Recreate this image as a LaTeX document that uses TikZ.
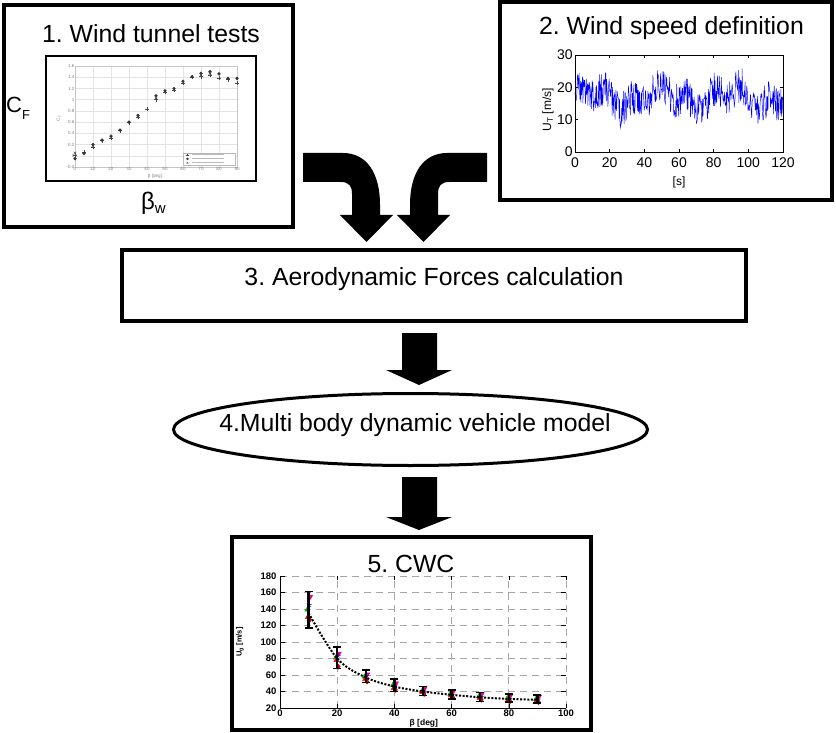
\documentclass[tikz,border=0pt]{standalone}
\usepackage{fontspec}
\setmainfont{Liberation Sans}
\usetikzlibrary{shapes.geometric,plotmarks}
\begin{document}
\frenchspacing
\begin{tikzpicture}[x=1pt,y=-1pt,
  frame/.style={draw=black, line width=4pt, inner sep=0pt},
  ttl/.style={font=\fontsize{24.8}{28}\selectfont, inner sep=0pt, anchor=base},
  blk/.style={fill=black},
  tickb/.style={font=\fontsize{14}{14}\selectfont, inner sep=1pt},
  labb/.style={font=\fontsize{12}{12}\selectfont, inner sep=0pt},
  tickc/.style={font=\bfseries\fontsize{9.5}{10}\selectfont, inner sep=1pt},
  tinya/.style={font=\fontsize{4.5}{5}\selectfont, text=gray, inner sep=0.5pt},
  cgrid/.style={draw=gray!70, line width=1pt, dash pattern=on 7pt off 5pt},
  ebar/.style={line width=2.5pt},
  ecap/.style={line width=1.5pt},
]
\useasboundingbox (0,0) rectangle (836,733);
\fill[white] (0,0) rectangle (836,733);

% ---------- Box 1 ----------
\node[frame, minimum width=288.5pt, minimum height=222pt] (b1) at (148.25,116) {};
\node[ttl] (t1) at (151,43) {1. Wind tunnel tests};
\node[draw, line width=2pt, minimum width=210pt, minimum height=125pt, inner sep=0pt] (p1) at (151,118.5) {};
\node[anchor=base west, inner sep=0pt, font=\fontsize{22}{24}\selectfont] (cf) at (6,113)
  {C\raisebox{-7pt}{\fontsize{13}{13}\selectfont F}};
\node[anchor=base, inner sep=0pt, font=\fontsize{24}{26}\selectfont] (bw) at (153.5,210)
  {β\raisebox{-4pt}{\fontsize{15}{15}\selectfont w}};

\begin{scope}[shift={(75,155.8)}, x=1.8pt, y=56.1pt]
  \foreach \v in {0,0.2,...,1.4} \draw[gray!22, line width=0.4pt] (0,\v) -- (90,\v);
  \foreach \b in {10,20,...,80} \draw[gray!22, line width=0.4pt] (\b,-0.2) -- (\b,1.6);
  \draw[gray!45, line width=0.4pt] (0,-0.2) rectangle (90,1.6);
  \foreach \v/\l in {-0.2/-0.2,0/0,0.2/0.2,0.4/0.4,0.6/0.6,0.8/0.8,1/1,1.2/1.2,1.4/1.4,1.6/1.6}
    \node[tinya, anchor=east] at (0,\v) {\l};
  \foreach \b in {0,10,...,90} \node[tinya, anchor=north] at (\b,-0.2) {\b};
  \node[tinya, rotate=90] at (-9,0.67) {C\textsubscript{F}};
  \node[tinya] at (44.4,-0.37) {β [deg]};
  \draw[gray!55!black, line width=0.6pt] plot[only marks, mark=+, mark size=2pt] coordinates {
    (0,0.0) (5,0.06) (10,0.15) (15,0.27) (20,0.32) (25,0.45) (30,0.59) (35,0.69) (40,0.83)
    (45,1.0) (50,1.13) (55,1.17) (60,1.29) (65,1.4) (70,1.41) (75,1.44) (80,1.39) (85,1.36) (90,1.29)};
  \draw[gray!40!black] plot[only marks, mark=*, mark size=1.4pt] coordinates {
    (0,-0.05) (5,0.04) (10,0.2) (15,0.28) (20,0.35) (25,0.46) (30,0.6) (35,0.72)
    (45,1.07) (50,1.16) (55,1.2) (60,1.33) (65,1.41) (70,1.47) (75,1.5) (80,1.46) (85,1.38) (90,1.38)};
  \draw[gray!60!black, line width=0.6pt] plot[only marks, mark=x, mark size=1.8pt] coordinates {(0,0.05) (10,0.18) (45,1.03) (70,1.44) (75,1.47)};
  % legend
  \draw[gray!55, fill=white, line width=0.4pt] (60,-0.164) rectangle (89,0.05);
  \draw[gray!55!black] plot[only marks, mark=+, mark size=1.3pt] coordinates {(62.5,0.015)};
  \draw[gray!40!black] plot[only marks, mark=*, mark size=1pt] coordinates {(62.5,-0.055)};
  \draw[gray!60!black] plot[only marks, mark=x, mark size=1.2pt] coordinates {(62.5,-0.125)};
  \foreach \r in {0.015,-0.055,-0.125} \draw[gray!55, line width=1pt] (65,\r) -- (83,\r);
\end{scope}

% ---------- Box 2 ----------
\node[frame, minimum width=332pt, minimum height=198pt] (b2) at (666,101) {};
\node[ttl] (t2) at (671.5,35) {2. Wind speed definition};
\begin{scope}[shift={(575,152)}, x=1.73333pt, y=3.23333pt]
  \pgfmathsetseed{11}
  \draw[blue, line width=0.45pt] plot[domain=0:120, samples=500]
    (\x, {17+2.5*sin(\x*9)+2*sin(\x*23+40)+5.5*rand});
  \draw[line width=0.7pt] (0,0) rectangle (120,30);
  \foreach \t in {0,20,...,120} {
    \draw[line width=0.5pt] (\t,0) -- ++(0,0.9);
    \draw[line width=0.5pt] (\t,30) -- ++(0,-0.9);
    \node[tickb, anchor=north] at (\t,-1.5) {\t};
  }
  \foreach \u in {0,10,20,30} {
    \draw[line width=0.5pt] (0,\u) -- ++(1.7,0);
    \draw[line width=0.5pt] (120,\u) -- ++(-1.7,0);
    \node[tickb, anchor=east] at (-0.6,\u) {\u};
  }
  \node[labb] (sx) at (60,-9.3) {[s]};
  \node[labb, rotate=90] (sy) at (-15.6,13) {U\textsubscript{T} [m/s]};
\end{scope}

% ---------- curved arrows ----------
\fill[blk] (303,153) -- (343,153) .. controls (366,153) and (380,172) .. (380,205)
  -- (380,215) -- (393,215) -- (366.5,242) -- (340,215) -- (352,215) -- (352,194)
  .. controls (352,186) and (349,182) .. (341,182) -- (303,182) -- cycle;
\fill[blk] (487,153) -- (447,153) .. controls (424,153) and (410,172) .. (410,205)
  -- (410,215) -- (397,215) -- (423.5,242) -- (450,215) -- (438,215) -- (438,194)
  .. controls (438,186) and (441,182) .. (449,182) -- (487,182) -- cycle;

% ---------- Box 3 ----------
\node[frame, minimum width=624pt, minimum height=71pt] (b3) at (434,285.5) {};
\node[ttl] (t3) at (434,285) {3. Aerodynamic Forces calculation};

% ---------- down arrow A ----------
\fill[blk] (402,333) -- (437,333) -- (437,370) -- (452,370) -- (419,385) -- (386,370) -- (402,370) -- cycle;

% ---------- Ellipse 4 ----------
\node[draw, ellipse, line width=3pt, minimum width=474pt, minimum height=72pt, inner sep=0pt] (b4) at (410.5,429.5) {};
\node[ttl] (t4) at (415,431) {4.Multi body dynamic vehicle model};

% ---------- down arrow B ----------
\fill[blk] (402,477) -- (437,477) -- (437,517) -- (452,517) -- (419,530) -- (386,517) -- (402,517) -- cycle;

% ---------- Box 5 ----------
\node[frame, minimum width=359pt, minimum height=193pt] (b5) at (411.5,633.5) {};
\node[ttl] (t5) at (411,572) {5. CWC};
\begin{scope}[shift={(280,724.5)}, x=2.86pt, y=0.825pt]
  \foreach \u in {40,60,...,180} \draw[cgrid] (0,\u) -- (100,\u);
  \foreach \b in {20,40,...,100} \draw[cgrid] (\b,20) -- (\b,180);
  \draw[line width=0.8pt] (0,180) -- (0,20) -- (100,20);
  \foreach \u in {20,40,...,180} {
    \draw[line width=0.6pt] (0,\u) -- ++(1.6,0);
    \draw[line width=0.6pt] (100,\u) -- ++(-1.6,0);
    \node[tickc, anchor=east] at (-0.8,\u) {\u};
  }
  \foreach \b in {0,20,...,100} {
    \draw[line width=0.6pt] (\b,20) -- ++(0,5);
    \draw[line width=0.6pt] (\b,180) -- ++(0,-5);
    \node[tickc, anchor=north] at (\b,19) {\b};
  }
  \node[tickc, font=\bfseries\fontsize{8.5}{9}\selectfont] (cx) at (50.3,1) {β [deg]};
  \node[tickc, rotate=90, font=\bfseries\fontsize{7.5}{8}\selectfont] (cy) at (-14,100) {U\textsubscript{g} [m/s]};
  \foreach \b/\m/\lo/\hi/\ma/\bl/\gr/\ra/\rb in {
      10/135/117/161/155/145/139/130/127,
      20/80/68/94/86/83/81/78/70,
      30/57/51/66/61/59/58/55/52,
      40/46/40/55/50/47/48/44/42,
      50/40/35/46/44/41/40/39/37,
      60/36/31/42/40/36/37/35/33,
      70/33/28/39/37/33/34/32/30,
      80/31/27/37/35/31/32/30/28,
      90/30/26/36/34/30/31/29/27} {
    \draw[magenta] plot[only marks, mark=triangle*, mark size=2.8pt, mark options={rotate=180}] coordinates {(\b+0.6,\ma)};
    \draw[blue] plot[only marks, mark=star, mark size=2.8pt] coordinates {(\b+0.3,\bl)};
    \draw[green!70!black] plot[only marks, mark=triangle*, mark size=2.8pt] coordinates {(\b-0.5,\gr)};
    \draw[red] plot[only marks, mark=triangle*, mark size=2.8pt] coordinates {(\b-0.3,\ra)};
    \draw[red!80!black] plot[only marks, mark=diamond*, mark size=2.6pt] coordinates {(\b+0.4,\rb)};
    \draw[ebar] (\b,\lo) -- (\b,\hi);
    \draw[ecap] ([xshift=-4pt]\b,\lo) -- ([xshift=4pt]\b,\lo);
    \draw[ecap] ([xshift=-4pt]\b,\hi) -- ([xshift=4pt]\b,\hi);
  }
  \draw[line width=2pt, dash pattern=on 2pt off 1.6pt] plot[smooth, tension=0.55] coordinates
    {(10,135) (20,80) (30,57) (40,46) (50,40) (60,36) (70,33) (80,31) (90,30)};
\end{scope}
\end{tikzpicture}
\end{document}
